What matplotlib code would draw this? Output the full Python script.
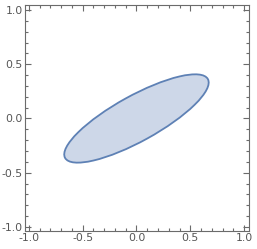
import numpy as np
import matplotlib
matplotlib.use("Agg")
import matplotlib.pyplot as plt
from matplotlib.patches import Ellipse
from matplotlib.ticker import MultipleLocator, FixedLocator

# data
center = [0.0, 0.0]
semi_axes = [0.756, 0.210]      # semi-major, semi-minor
angle_deg = 28.7
major_ticks = [-1.0, -0.5, 0.0, 0.5, 1.0]
tick_labels = ["-1.0", "-0.5", "0.0", "0.5", "1.0"]

edge = "#5E81B5"
fill = "#CDD7E8"
framec = "#6b6b6b"
labelc = "#555555"

fig = plt.figure(figsize=(2.57, 2.49), dpi=100)
ax = fig.add_axes([25/257, 18/249, 224/257, 226/249])

ell = Ellipse(center, 2*semi_axes[0], 2*semi_axes[1], angle=angle_deg,
              facecolor=fill, edgecolor=edge, linewidth=1.3)
ax.add_patch(ell)

ax.set_xlim(-1.035, 1.045)
ax.set_ylim(-1.037, 1.046)

for a in (ax.xaxis, ax.yaxis):
    a.set_major_locator(FixedLocator(major_ticks))
    a.set_minor_locator(MultipleLocator(0.1))
ax.set_xticklabels(tick_labels)
ax.set_yticklabels(tick_labels)

ax.tick_params(which="both", direction="in", top=True, right=True,
               color=framec, width=0.8, labelsize=7.8, labelcolor=labelc)
ax.tick_params(which="major", length=4, pad=1.5)
ax.tick_params(which="minor", length=2.2)
for s in ax.spines.values():
    s.set_color(framec)
    s.set_linewidth(0.8)

fig.savefig("out.png", dpi=100)
